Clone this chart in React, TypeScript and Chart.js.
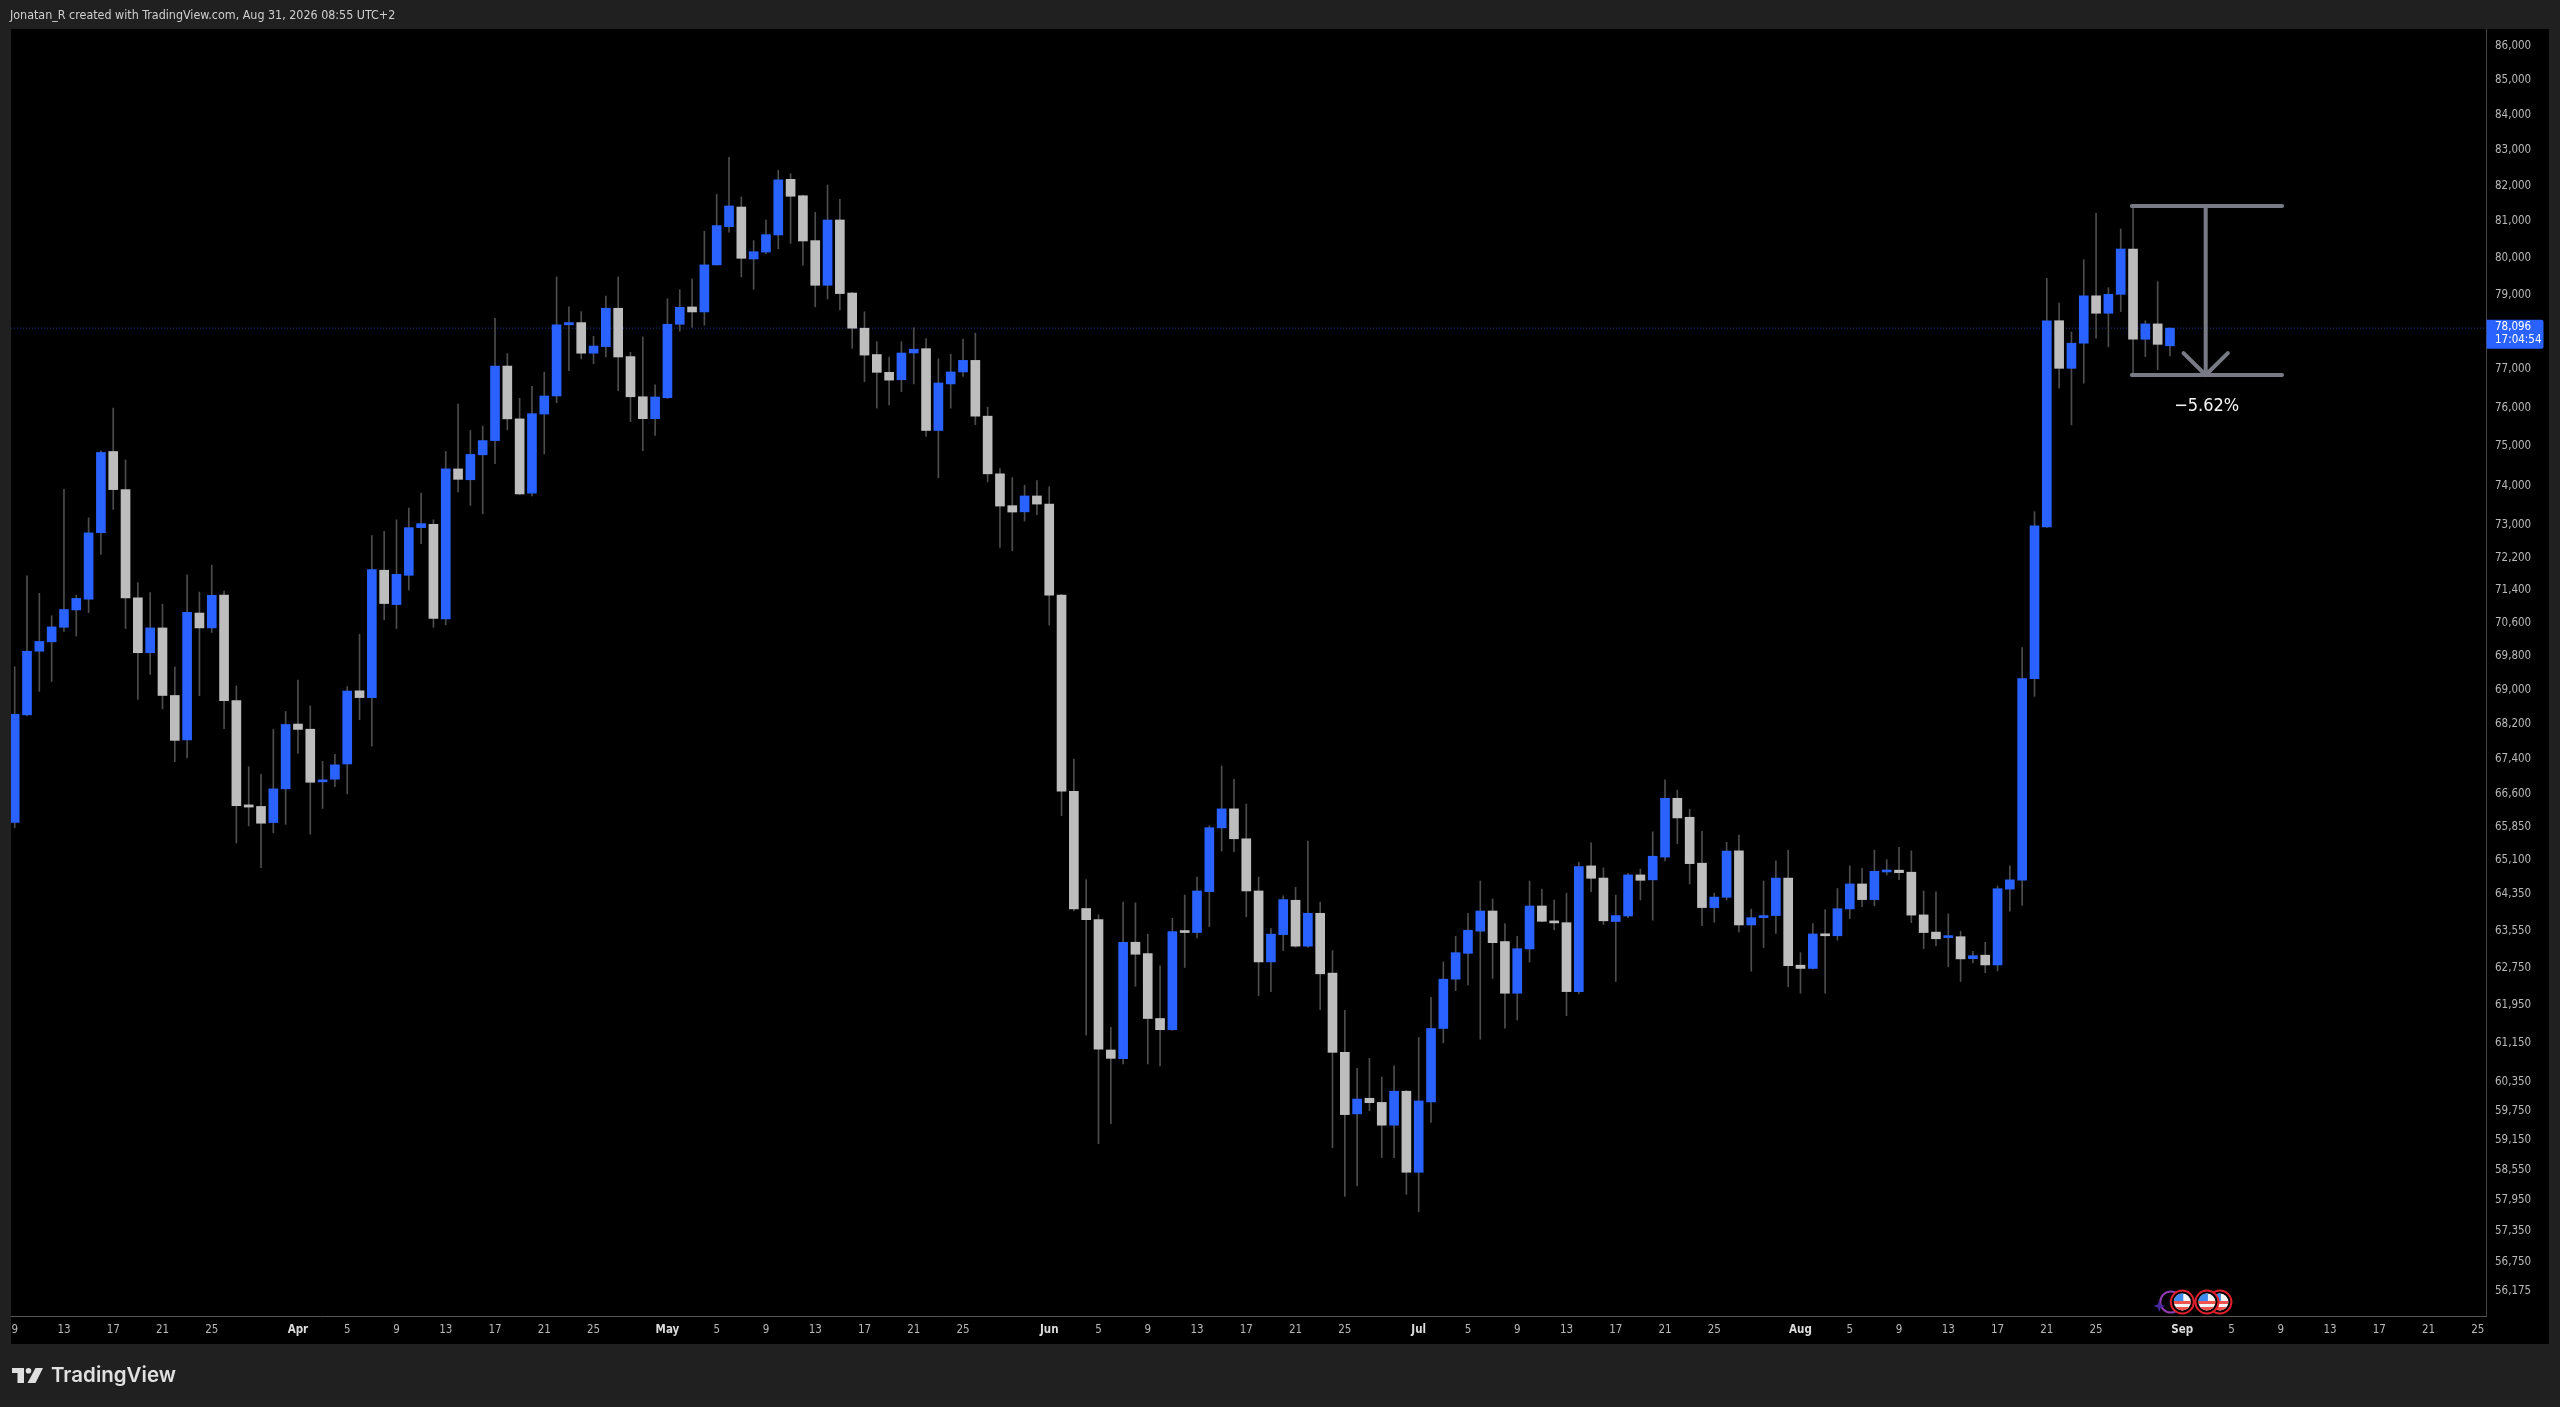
import React, { useEffect, useRef } from "react";
import { Chart, registerables } from "chart.js";

Chart.register(...registerables);

const opens = [65950,68420,69925,70150,70500,70920,71180,72820,74870,73900,
71215,69890,70485,68875,67835,70845,70485,71280,68755,66345,
66310,65945,66710,68205,68085,66870,66930,67280,68985,68825,
71890,71050,71765,72945,73030,70705,74425,74150,74785,75150,
77090,75710,73810,75835,76305,78185,78245,77430,77605,78630,
77340,76285,75715,76260,78200,78665,78530,79805,80855,81400,
79965,80155,80625,82175,81715,80470,79250,81040,79040,78095,
77395,76925,76730,77435,77550,75410,76620,76935,77240,75780,
74300,73495,73340,73740,73535,71280,66655,64035,63790,61010,
60830,63300,63055,61670,61435,63540,63510,64405,65825,66255,
65580,64420,62875,63465,64215,63215,63930,62635,60960,59690,
60010,59925,59460,60155,58510,59935,61460,62505,63060,63540,
63980,63315,62205,63155,64090,63755,63725,62240,64975,64705,
63750,63870,64775,64665,65170,66495,66065,65035,64055,64280,
65310,63675,63835,63880,64705,62805,62735,63480,63440,64025,
64575,64230,64840,64880,64835,63895,63520,63400,63420,62945,
63020,62810,64460,64660,69275,72965,78295,77030,77695,78965,
78495,79005,80240,77800,78210,77625];

const closes = [68430,69925,70160,70510,70930,71200,72815,74845,73900,71215,
69890,70485,68875,67825,70865,70485,71275,68755,66325,66295,
65930,66710,68195,68080,66860,66915,67260,68980,68825,71905,
71075,71790,72945,73045,70715,74425,74160,74795,75150,77090,
75710,73790,75845,76305,78185,78245,77430,77620,78630,77330,
76285,75715,76280,78200,78655,78530,79805,80885,81430,79985,
80165,80635,82160,81700,80460,79250,81040,79025,78095,77380,
76925,76720,77435,77535,75410,76645,76935,77240,75780,74300,
73485,73335,73740,73535,71280,66655,64025,63790,61025,60835,
63300,63040,61670,61435,63530,63510,64420,65830,66255,65580,
64420,62875,63475,64230,63215,63930,62620,60960,59675,59995,
59920,59460,60155,58510,59955,61460,62505,63075,63560,63980,
63290,62205,63160,64090,63755,63720,62240,64960,64700,63765,
63880,64775,64655,65190,66495,66050,65025,64055,64285,65305,
63675,63835,63880,64705,62795,62735,63480,63440,64030,64575,
64230,64855,64880,64825,63890,63510,63375,63420,62940,63010,
62810,64470,64665,69275,72990,78295,77030,77695,78965,78495,
79005,80240,77800,78210,77665,78096];

const highs = [69555,71755,71325,70780,73910,71275,73190,74890,75990,74655,
71585,71340,71060,69550,71775,71355,72015,71380,69100,67215,
67040,68085,68500,69240,68630,67340,67505,69085,70335,72750,
72850,73140,73435,73815,73140,74870,76095,75410,75525,78360,
77420,76245,76560,76930,79475,78665,78540,77880,78960,79475,
77455,77860,76595,78885,79130,79415,80730,81755,82795,81680,
80470,81040,82430,82335,81735,81250,82015,81615,79060,78535,
77735,77325,77735,78105,77820,77280,77405,77805,77965,76015,
74435,74205,74010,74130,73970,71300,67395,64670,63895,61485,
64175,64160,63475,62790,63820,64330,64725,65875,67235,66930,
66365,64725,63595,64315,64500,65530,64175,63120,61845,60630,
60835,60445,60680,60170,61270,62120,62875,63430,63930,64640,
64245,63705,63430,64640,64460,64220,64370,65055,65490,64930,
64330,64810,64905,65735,66915,66685,66245,65750,64370,65500,
65665,64020,64640,65085,65325,63075,63705,64010,64475,64975,
64920,65325,65115,65390,65310,64420,64400,63915,63540,63105,
63300,64530,64975,70015,73345,79435,78770,77995,79945,81225,
79185,80790,81380,78295,79350,78105];

const lows = [65830,68395,68970,69205,70400,70290,70855,72280,73400,70470,
68780,69370,68560,67335,67420,68870,70375,68100,65485,65870,
64935,65715,65905,67525,65685,66265,66760,66595,68305,67690,
70680,70470,71405,72545,70500,70560,73840,73500,73290,74560,
75425,73770,73740,74805,76130,76970,77280,77155,77330,76445,
75640,74890,75280,76240,78015,78115,78175,79800,80700,79475,
79140,80110,80245,80395,79795,78670,78880,78585,77560,76675,
75990,76070,76420,76620,75260,74200,75990,76820,75560,74095,
72450,72370,73110,73270,70555,66100,63980,61320,59085,59490,
60720,62355,60720,60680,61420,62755,63395,63640,65305,65290,
63855,62155,62240,63120,63190,63190,61855,59005,58030,58240,
59755,58805,58805,58070,57725,59515,61160,62260,62380,61235,
62520,61465,61640,62870,63740,63570,61730,62190,64405,63685,
62455,63835,64220,63780,65085,65470,64575,63660,63735,64220,
63525,62675,63185,63490,62345,62205,62720,62205,63345,63815,
64075,64095,64775,64670,63725,63160,63225,62770,62455,62855,
62645,62685,63975,64100,68855,72950,76510,75555,76640,77830,
77600,78540,76895,77340,76995,77355];

const priceTicks = [86000,85000,84000,83000,82000,81000,80000,79000,77000,76000,75000,74000,73000,72200,71400,70600,69800,69000,68200,67400,66600,65850,65100,64350,63550,62750,61950,61150,60350,59750,59150,58550,57950,57350,56750,56175];

const dateTickPositions = [0,4,8,12,16,23,27,31,35,39,43,47,53,57,61,65,69,73,77,84,88,92,96,100,104,108,114,118,122,126,130,134,138,145,149,153,157,161,165,169,176,180,184,188,192,196,200];
const dateTickLabels = ["9","13","17","21","25","Apr","5","9","13","17","21","25","May","5","9","13","17","21","25","Jun","5","9","13","17","21","25","Jul","5","9","13","17","21","25","Aug","5","9","13","17","21","25","Sep","5","9","13","17","21","25"];
const monthLabels = ["Apr", "May", "Jun", "Jul", "Aug", "Sep"];

const lastPrice = 78096;
const countdown = "17:04:54";
const measureHigh = 81428;
const measureLow = 76854;
const arrowWing = 77434;
const measureLeft = 171.9;
const measureRight = 184.1;
const measureMid = 177.9;
const arrowLeft = 176.1;
const arrowRight = 179.7;
const measureLabel = "\u22125.62%";
const headerText = "Jonatan_R created with TradingView.com, Aug 31, 2026 08:55 UTC+2";
const brandText = "TradingView";

const BLUE = "#2962FF";
const GREY = "#BDBDBD";
const WICK = "#4d4d4d";
const TOOL = "#787B86";
const FRAME = "#202020";
const TEXT = "#b8b8b8";
const FONT = '"DejaVu Sans Condensed", "DejaVu Sans", sans-serif';

const flag = (ctx: CanvasRenderingContext2D, cx: number, cy: number) => {
  ctx.save();
  ctx.beginPath();
  ctx.arc(cx, cy, 11.5, 0, Math.PI * 2);
  ctx.fillStyle = "#000";
  ctx.fill();
  ctx.lineWidth = 2;
  ctx.strokeStyle = "#e0202c";
  ctx.stroke();
  ctx.beginPath();
  ctx.arc(cx, cy, 8.5, 0, Math.PI * 2);
  ctx.clip();
  ctx.fillStyle = "#f4f4f4";
  ctx.fillRect(cx - 9, cy - 9, 18, 18);
  ctx.fillStyle = "#ef5350";
  ctx.fillRect(cx - 9, cy - 1, 18, 3);
  ctx.fillRect(cx - 9, cy + 5, 18, 4);
  ctx.fillStyle = "#3d8bf2";
  ctx.fillRect(cx - 9, cy - 9, 10, 8);
  ctx.restore();
};

const chrome = {
  id: "chrome",
  beforeDraw(chart: any) {
    const { ctx } = chart;
    ctx.save();
    ctx.fillStyle = FRAME;
    ctx.fillRect(0, 0, 2560, 1407);
    ctx.fillStyle = "#000";
    ctx.fillRect(11, 29, 2538, 1315);
    ctx.restore();
  },
  afterDraw(chart: any) {
    const { ctx, scales } = chart;
    const x = scales.x;
    const y = scales.y;
    ctx.save();
    ctx.textBaseline = "middle";

    ctx.font = `12.4px ${FONT}`;
    ctx.fillStyle = "#cfcfcf";
    ctx.textAlign = "left";
    ctx.fillText(headerText, 10, 15.5);

    const py = y.getPixelForValue(lastPrice);
    ctx.fillStyle = BLUE;
    ctx.beginPath();
    ctx.roundRect(x.right + 0.5, py - 8.5, 57, 29, [0, 2, 2, 0]);
    ctx.fill();
    ctx.font = `11.5px ${FONT}`;
    ctx.fillStyle = "#fff";
    ctx.fillText(lastPrice.toLocaleString("en-US"), 2495, py - 1);
    ctx.fillText(countdown, 2495, py + 12);

    ctx.font = `18px ${FONT}`;
    ctx.textAlign = "center";
    ctx.fillStyle = "#f5f5f5";
    ctx.fillText(measureLabel, x.getPixelForValue(measureMid) + 1, y.getPixelForValue(measureLow) + 31.5);

    const ey = y.bottom - 14;
    const ringX = x.getPixelForValue(176) - 11.5;
    ctx.beginPath();
    ctx.arc(ringX, ey, 10.5, 0, Math.PI * 2);
    ctx.strokeStyle = "#8e3bb0";
    ctx.lineWidth = 2;
    ctx.stroke();
    const sx = ringX - 11.5;
    const sy = ey + 4;
    ctx.fillStyle = "#4527a0";
    ctx.beginPath();
    ctx.moveTo(sx, sy - 6);
    ctx.lineTo(sx + 1.6, sy - 1.6);
    ctx.lineTo(sx + 6, sy);
    ctx.lineTo(sx + 1.6, sy + 1.6);
    ctx.lineTo(sx, sy + 6);
    ctx.lineTo(sx - 1.6, sy + 1.6);
    ctx.lineTo(sx - 6, sy);
    ctx.lineTo(sx - 1.6, sy - 1.6);
    ctx.closePath();
    ctx.fill();
    flag(ctx, x.getPixelForValue(176), ey);
    flag(ctx, x.getPixelForValue(178) + 13, ey);
    flag(ctx, x.getPixelForValue(178), ey);

    ctx.fillStyle = "#e0e0e0";
    ctx.fillRect(12, 1368, 12, 5);
    ctx.fillRect(17.5, 1368, 6.5, 15);
    ctx.beginPath();
    ctx.arc(28.5, 1370.8, 2.8, 0, Math.PI * 2);
    ctx.fill();
    ctx.beginPath();
    ctx.moveTo(35.5, 1368);
    ctx.lineTo(43, 1368);
    ctx.lineTo(35.5, 1383);
    ctx.lineTo(27.5, 1383);
    ctx.closePath();
    ctx.fill();

    ctx.font = '600 20.5px Inter, sans-serif';
    ctx.textAlign = "left";
    ctx.fillText(brandText, 51, 1376);
    ctx.restore();
  },
};

export default function App() {
  const ref = useRef<HTMLCanvasElement | null>(null);

  useEffect(() => {
    document.body.style.margin = "0";
    document.body.style.background = FRAME;
    const indices = opens.map((_, i) => i);
    const chart = new Chart(ref.current as HTMLCanvasElement, {
      type: "bar",
      plugins: [chrome],
      data: {
        datasets: [
          {
            type: "line",
            data: [{ x: -0.3, y: lastPrice }, { x: 200.66, y: lastPrice }],
            borderColor: "rgba(41,98,255,0.55)",
            borderWidth: 1,
            borderDash: [1, 2],
            pointRadius: 0,
            order: 5,
          },
          {
            type: "bar",
            data: indices.map((i) => ({ x: i, y: [lows[i], highs[i]] })),
            backgroundColor: WICK,
            barThickness: 1,
            grouped: false,
            order: 4,
          },
          {
            type: "bar",
            data: indices.map((i) => ({ x: i, y: [Math.min(opens[i], closes[i]), Math.max(opens[i], closes[i])] })),
            backgroundColor: indices.map((i) => (closes[i] >= opens[i] ? BLUE : GREY)),
            barThickness: 9,
            minBarLength: 2,
            grouped: false,
            order: 3,
          },
          {
            type: "line",
            data: [{ x: measureLeft, y: measureHigh }, { x: measureRight, y: measureHigh }],
            borderColor: TOOL, borderWidth: 4, borderCapStyle: "round", pointRadius: 0, order: 2,
          },
          {
            type: "line",
            data: [{ x: measureLeft, y: measureLow }, { x: measureRight, y: measureLow }],
            borderColor: TOOL, borderWidth: 4, borderCapStyle: "round", pointRadius: 0, order: 2,
          },
          {
            type: "line",
            data: [{ x: measureMid, y: measureHigh }, { x: measureMid, y: measureLow }],
            borderColor: TOOL, borderWidth: 4, borderCapStyle: "round", pointRadius: 0, order: 2,
          },
          {
            type: "line",
            data: [{ x: arrowLeft, y: arrowWing }, { x: measureMid, y: measureLow }, { x: arrowRight, y: arrowWing }],
            borderColor: TOOL, borderWidth: 4, borderCapStyle: "round", borderJoinStyle: "round", pointRadius: 0, order: 2,
          },
        ],
      } as any,
      options: {
        responsive: false,
        animation: false,
        devicePixelRatio: 1,
        layout: { autoPadding: false, padding: { left: 11, top: 29, right: 11, bottom: 63 } },
        plugins: { legend: { display: false }, tooltip: { enabled: false } },
        scales: {
          x: {
            type: "linear",
            min: -0.3,
            max: 200.66,
            offset: false,
            grid: { display: false, drawTicks: false },
            border: { color: "#555", width: 1 },
            afterBuildTicks: (axis: any) => {
              axis.ticks = dateTickPositions.map((v) => ({ value: v }));
            },
            afterFit: (axis: any) => {
              axis.height = 28;
            },
            ticks: {
              autoSkip: false,
              maxRotation: 0,
              padding: 7,
              color: (c: any) => (monthLabels.includes(dateTickLabels[c.index]) ? "#dcdcdc" : TEXT),
              font: (c: any) => ({
                family: FONT,
                size: 11.5,
                weight: monthLabels.includes(dateTickLabels[c.index]) ? "bold" : "normal",
              }),
              callback: (_v: any, i: number) => dateTickLabels[i],
            },
          },
          y: {
            type: "logarithmic",
            position: "right",
            min: 55703,
            max: 86511,
            grid: { display: false, drawTicks: false },
            border: { color: "#444", width: 1 },
            afterBuildTicks: (axis: any) => {
              axis.ticks = priceTicks.map((v) => ({ value: v }));
            },
            afterFit: (axis: any) => {
              axis.width = 63;
            },
            ticks: {
              autoSkip: false,
              padding: 9,
              color: TEXT,
              font: { family: FONT, size: 11.5 },
              callback: (v: any) => Number(v).toLocaleString("en-US"),
            },
          },
        },
      } as any,
    });
    return () => chart.destroy();
  }, []);

  return <canvas ref={ref} width={2560} height={1407} style={{ display: "block", width: 2560, height: 1407 }} />;
}
